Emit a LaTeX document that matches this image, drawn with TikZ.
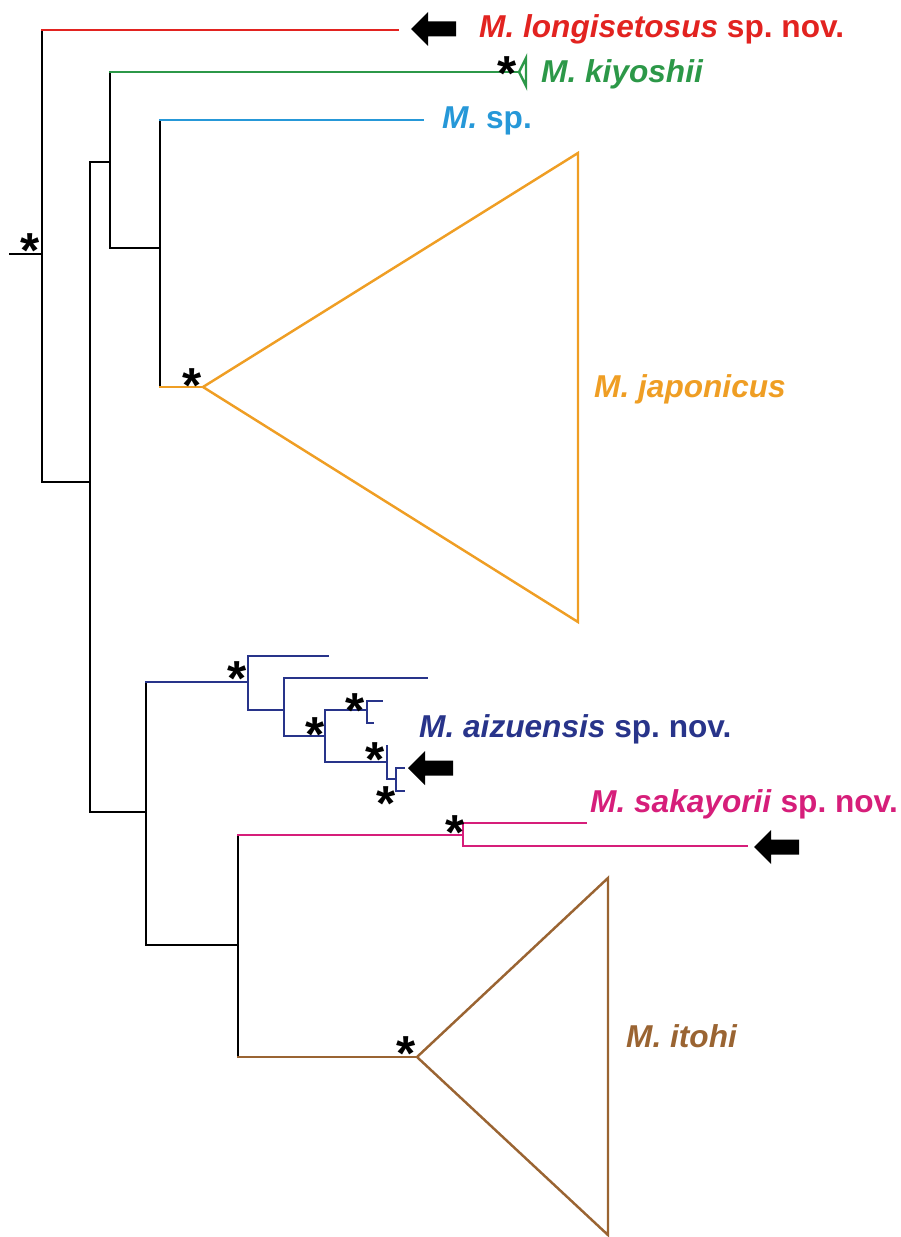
\documentclass[tikz,border=0pt]{standalone}
\usepackage{fontspec}
\setmainfont{Liberation Sans}
\frenchspacing
\definecolor{lonred}{RGB}{226,35,32}
\definecolor{kiygreen}{RGB}{44,152,72}
\definecolor{spblue}{RGB}{38,152,216}
\definecolor{japorange}{RGB}{239,158,36}
\definecolor{aizblue}{RGB}{40,52,138}
\definecolor{sakpink}{RGB}{214,30,122}
\definecolor{itobrown}{RGB}{154,100,50}
\begin{document}
\begin{tikzpicture}[x=0.02cm, y=-0.02cm, line width=1.4pt, line cap=rect,
    taxon/.style={anchor=base west, inner sep=0pt, font=\fontsize{18}{20}\selectfont\bfseries},
    supp/.style={anchor=north, inner sep=0pt, font=\fontsize{28}{28}\selectfont\bfseries},
    newsp/.pic={\fill[black] (0,0) -- (17,-17) -- (17,-7.5) -- (45,-7.5) -- (45,7.5) -- (17,7.5) -- (17,17) -- cycle;}]
  \useasboundingbox (0,0) rectangle (900,1237);

  % internal nodes
  \coordinate (stub) at (10,254);
  \coordinate (root) at (42,254);
  \coordinate (a) at (90,482);
  \coordinate (b) at (110,162);
  \coordinate (c) at (160,248);
  \coordinate (d) at (146,812);
  \coordinate (e) at (248,682);
  \coordinate (e1) at (284,710);
  \coordinate (e2) at (325,736);
  \coordinate (e3) at (367,710);
  \coordinate (e4) at (387,762);
  \coordinate (e5) at (396,779);
  \coordinate (f) at (238,945);
  \coordinate (g) at (463,835);

  % tips
  \coordinate (tLon) at (398,30);
  \coordinate (tKiy) at (519,72);
  \coordinate (tSp) at (423,120);
  \coordinate (tJap) at (203,387);
  \coordinate (tA1) at (328,656);
  \coordinate (tA2) at (427,678);
  \coordinate (tA3) at (382,701);
  \coordinate (tA4) at (373,723);
  \coordinate (tA5) at (387,746);
  \coordinate (tA6) at (404,768);
  \coordinate (tA7) at (404,791);
  \coordinate (tSak1) at (586,823);
  \coordinate (tSak2) at (747,846);
  \coordinate (tIto) at (417,1057);

  % backbone
  \draw (stub) -- (root);
  \draw (root |- tLon) -- (root |- a);
  \draw (root |- a) -- (a);
  \draw (a |- b) -- (a |- d);
  \draw (a |- b) -- (b);
  \draw (a |- d) -- (d);
  \draw (b |- tKiy) -- (b |- c);
  \draw (b |- c) -- (c);
  \draw (c |- tSp) -- (c |- tJap);
  \draw (d |- e) -- (d |- f);
  \draw (d |- f) -- (f);
  \draw (f |- g) -- (f |- tIto);

  \draw[lonred] (root |- tLon) -- (tLon);
  \draw[kiygreen] (b |- tKiy) -- (tKiy);
  \draw[kiygreen, line join=miter] (tKiy) -- (526,58) -- (526,86) -- cycle;
  \draw[spblue] (c |- tSp) -- (tSp);
  \draw[japorange] (c |- tJap) -- (tJap);
  \draw[japorange, line join=miter] (tJap) -- (578,153) -- (578,622) -- cycle;

  % aizuensis
  \begin{scope}[aizblue]
    \draw (d |- e) -- (e);
    \draw (e |- tA1) -- (e |- e1);
    \draw (e |- tA1) -- (tA1);
    \draw (e |- e1) -- (e1);
    \draw (e1 |- tA2) -- (e1 |- e2);
    \draw (e1 |- tA2) -- (tA2);
    \draw (e1 |- e2) -- (e2);
    \draw (e2 |- e3) -- (e2 |- e4);
    \draw (e2 |- e3) -- (e3);
    \draw (e2 |- e4) -- (e4);
    \draw (e3 |- tA3) -- (e3 |- tA4);
    \draw (e3 |- tA3) -- (tA3);
    \draw (e3 |- tA4) -- (tA4);
    \draw (tA5) -- (e4 |- e5);
    \draw (e4 |- e5) -- (e5);
    \draw (e5 |- tA6) -- (e5 |- tA7);
    \draw (e5 |- tA6) -- (tA6);
    \draw (e5 |- tA7) -- (tA7);
  \end{scope}

  % sakayorii and itohi
  \draw[sakpink] (f |- g) -- (g);
  \draw[sakpink] (g |- tSak1) -- (g |- tSak2);
  \draw[sakpink] (g |- tSak1) -- (tSak1);
  \draw[sakpink] (g |- tSak2) -- (tSak2);
  \draw[itobrown] (f |- tIto) -- (tIto);
  \draw[itobrown, line join=miter] (tIto) -- (608,878) -- (608,1235) -- cycle;

  % support values
  \node[supp] (sRoot) at (30,232) {*};
  \node[supp] (sKiy) at (507,55) {*};
  \node[supp] (sJap) at (192,367) {*};
  \node[supp] (sA) at (237,660) {*};
  \node[supp] (sA3) at (355,692) {*};
  \node[supp] (sA2) at (315,716) {*};
  \node[supp] (sA4) at (375,741) {*};
  \node[supp] (sA5) at (386,785) {*};
  \node[supp] (sSak) at (455,814) {*};
  \node[supp] (sIto) at (406,1035) {*};

  % new species
  \pic (arLon) at (411,29) {newsp};
  \pic (arAiz) at (408,768) {newsp};
  \pic (arSak) at (754,847) {newsp};

  \node[taxon, text=lonred] (lLon) at (478,38) {\textit{M. longisetosus} sp. nov.};
  \node[taxon, text=kiygreen] (lKiy) at (540,83) {\textit{M. kiyoshii}};
  \node[taxon, text=spblue] (lSp) at (441,129) {\textit{M.} sp.};
  \node[taxon, text=japorange] (lJap) at (593,397) {\textit{M. japonicus}};
  \node[taxon, text=aizblue] (lAiz) at (418,737) {\textit{M. aizuensis} sp. nov.};
  \node[taxon, text=sakpink] (lSak) at (589,812) {\textit{M. sakayorii} sp. nov.};
  \node[taxon, text=itobrown] (lIto) at (625,1047) {\textit{M. itohi}};
\end{tikzpicture}
\end{document}
